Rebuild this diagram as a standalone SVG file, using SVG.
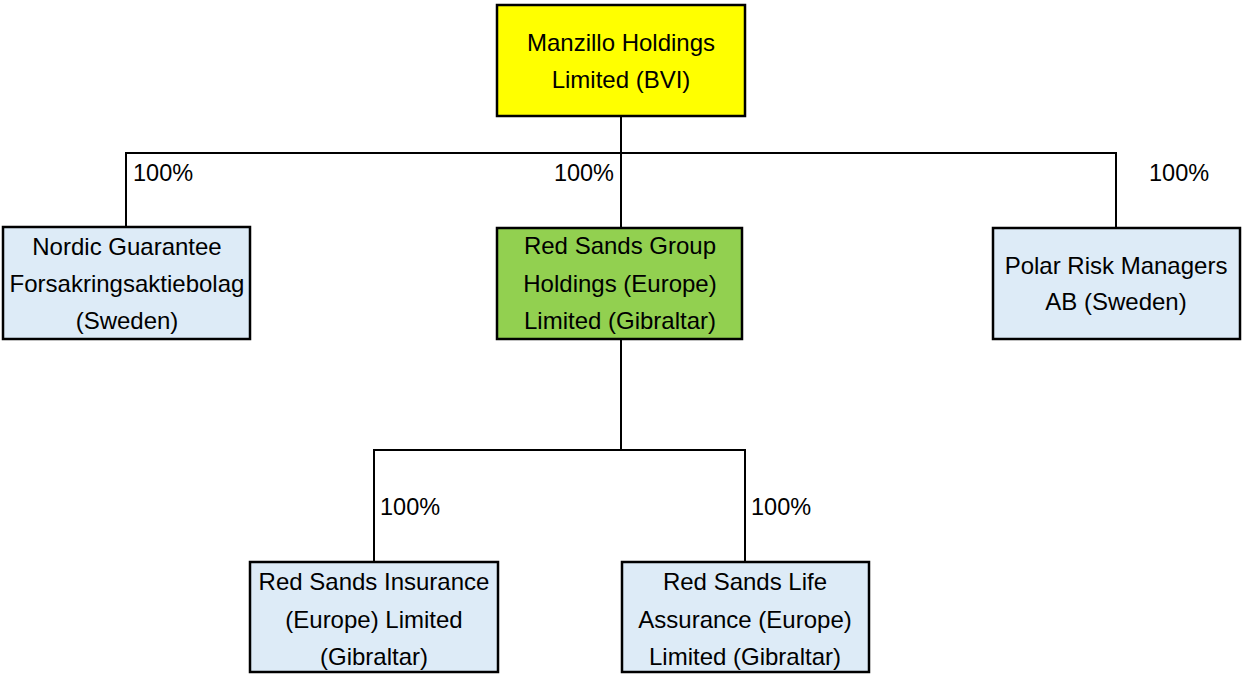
<svg xmlns="http://www.w3.org/2000/svg" width="1242" height="675" viewBox="0 0 1242 675">
<style>
.box{stroke:#000;stroke-width:2.5}
.blue{fill:#DDEBF7}
.t{font-family:"Liberation Sans",Arial,sans-serif;font-size:24px;fill:#000;text-anchor:middle}
.p{font-family:"Liberation Sans",Arial,sans-serif;font-size:23.5px;fill:#000}
.c{stroke:#000;stroke-width:2;fill:none}
</style>
<rect width="1242" height="675" fill="#fff"/>
<g id="connectors">
<path class="c" d="M621 116V153M126 227V153H1116V228M621 153V228"/>
<path class="c" d="M621 339V450M374 561V450H745V561"/>
<text class="p" x="133" y="181">100%</text>
<text class="p" x="614" y="181" text-anchor="end">100%</text>
<text class="p" x="1149" y="181">100%</text>
<text class="p" x="380" y="515">100%</text>
<text class="p" x="751" y="515">100%</text>
</g>
<g id="manzillo">
<rect class="box" x="497" y="5" width="248" height="111" fill="#FFFF00"/>
<text class="t" x="621" y="51">Manzillo Holdings</text>
<text class="t" x="621" y="88">Limited (BVI)</text>
</g>
<g id="nordic">
<rect class="box blue" x="3" y="227" width="247" height="112"/>
<text class="t" x="127" y="255">Nordic Guarantee</text>
<text class="t" x="127" y="292">Forsakringsaktiebolag</text>
<text class="t" x="127" y="329">(Sweden)</text>
</g>
<g id="redsands-group">
<rect class="box" x="497" y="228" width="245" height="111" fill="#92D050"/>
<text class="t" x="620" y="254">Red Sands Group</text>
<text class="t" x="620" y="292">Holdings (Europe)</text>
<text class="t" x="620" y="329">Limited (Gibraltar)</text>
</g>
<g id="polar">
<rect class="box blue" x="993" y="228" width="247" height="111"/>
<text class="t" x="1116" y="274">Polar Risk Managers</text>
<text class="t" x="1116" y="310">AB (Sweden)</text>
</g>
<g id="redsands-insurance">
<rect class="box blue" x="250" y="562" width="248" height="110"/>
<text class="t" x="374" y="590">Red Sands Insurance</text>
<text class="t" x="374" y="628">(Europe) Limited</text>
<text class="t" x="374" y="665">(Gibraltar)</text>
</g>
<g id="redsands-life">
<rect class="box blue" x="622" y="562" width="247" height="110"/>
<text class="t" x="745" y="590">Red Sands Life</text>
<text class="t" x="745" y="628">Assurance (Europe)</text>
<text class="t" x="745" y="665">Limited (Gibraltar)</text>
</g>
</svg>
